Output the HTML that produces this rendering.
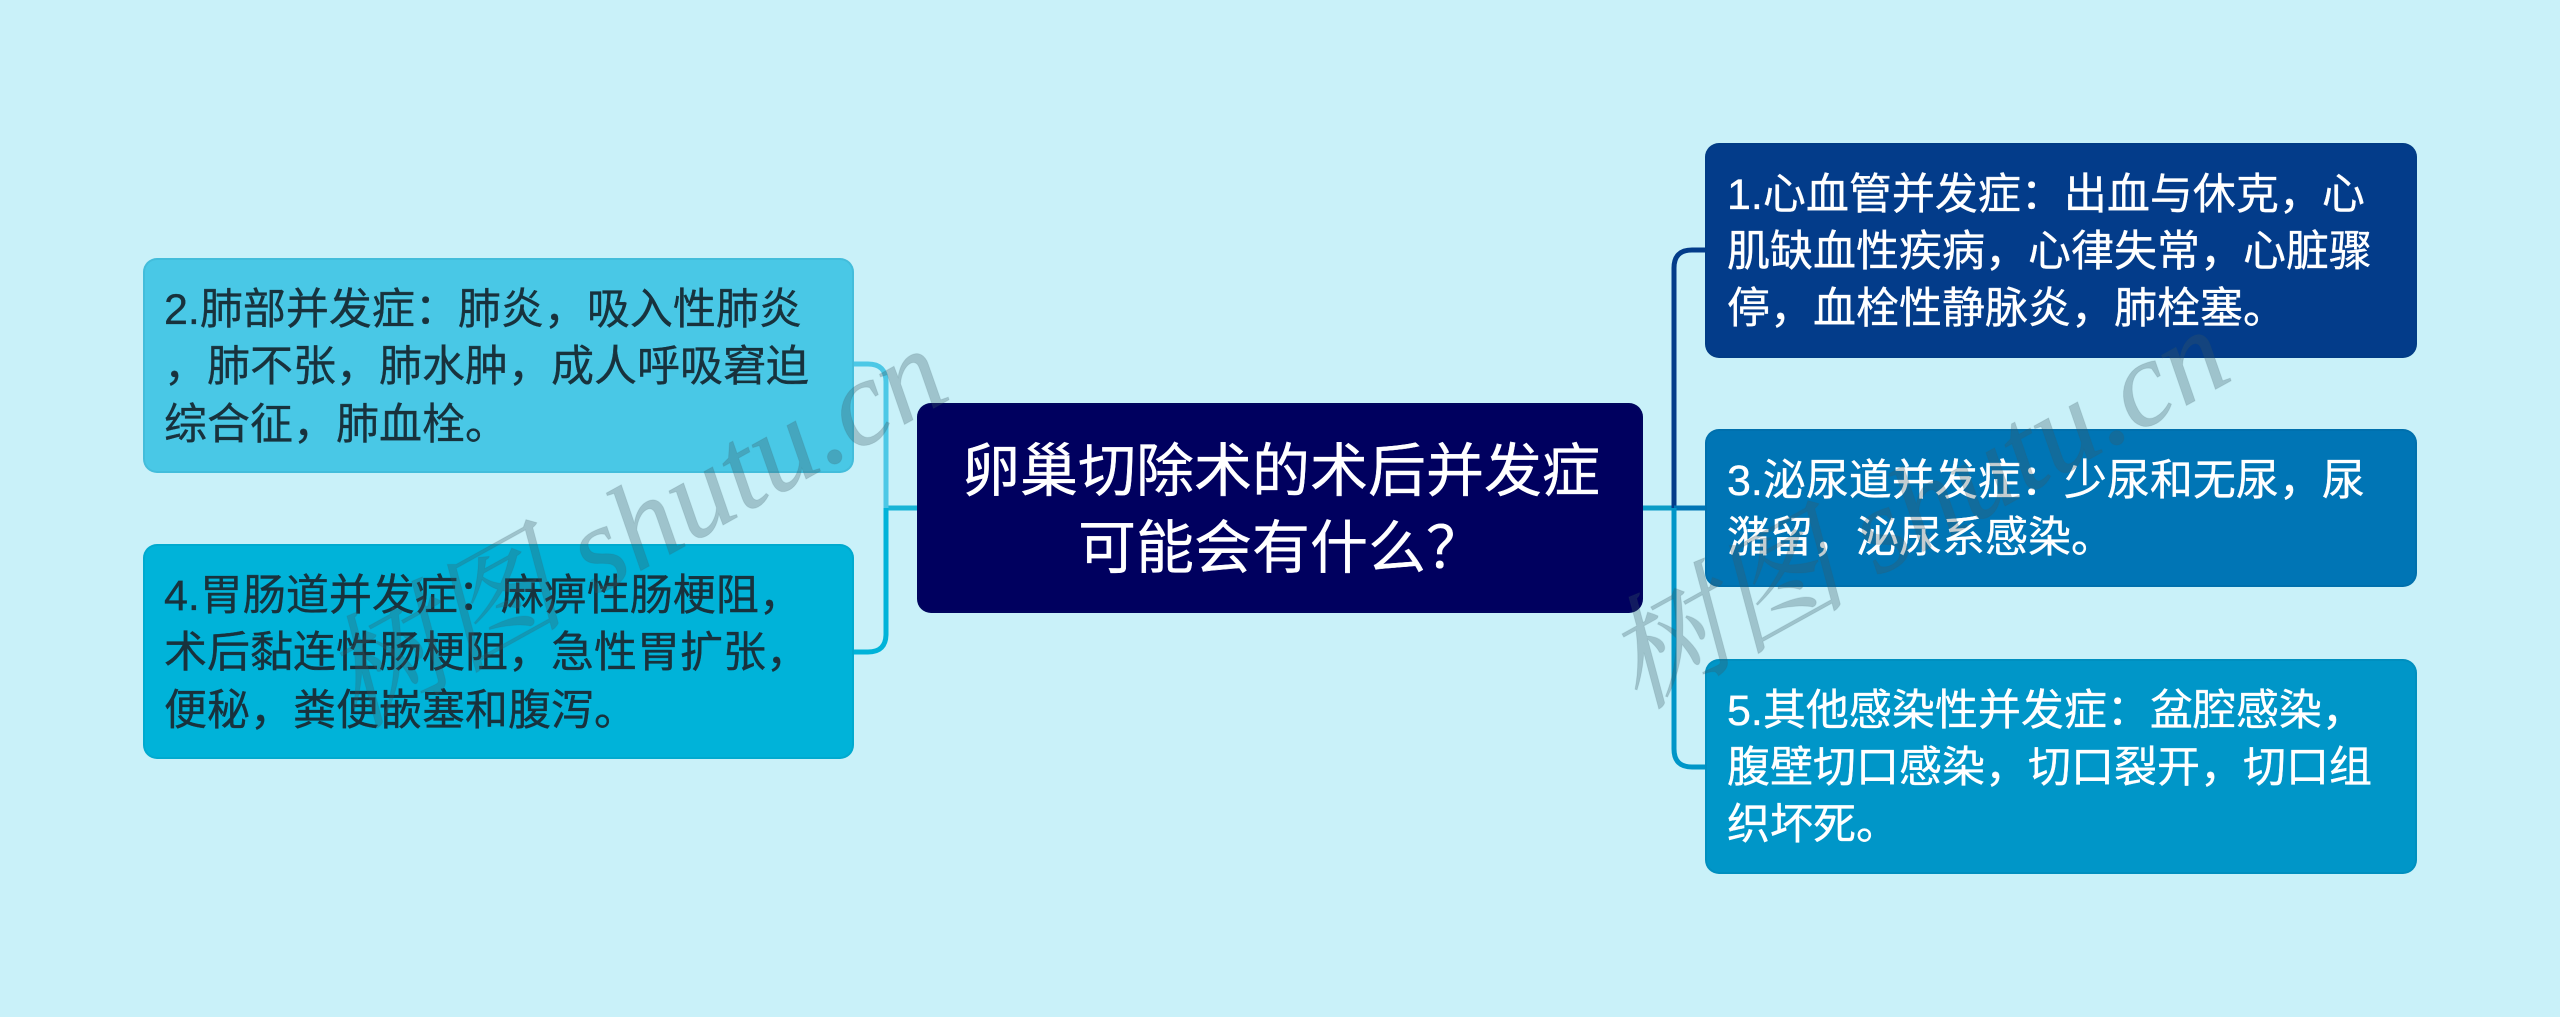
<!DOCTYPE html>
<html lang="zh">
<head>
<meta charset="utf-8">
<style>
html,body{margin:0;padding:0;background:#c9f1f9;}
#c{position:relative;width:2560px;height:1017px;overflow:hidden;background:#c9f1f9;font-family:"Liberation Sans","Noto Sans CJK SC",sans-serif;}
.b{position:absolute;border-radius:14px;box-sizing:border-box;border:2px solid rgba(0,60,90,.08);background-clip:border-box;}
.l{position:absolute;white-space:nowrap;font-size:43px;line-height:58px;height:58px;-webkit-text-stroke:.35px currentColor;}
.w{color:#fff}.d{color:#18323d}
.t{font-size:58px;line-height:76px;height:76px;color:#fff}
.wm{position:absolute;white-space:nowrap;font-family:"Liberation Serif","Noto Serif CJK SC",serif;font-style:italic;font-size:122px;line-height:130px;color:rgba(60,90,100,.3);-webkit-text-stroke:1px rgba(60,90,100,.12);transform:rotate(-29deg);transform-origin:center;}
svg{position:absolute;left:0;top:0}
</style>
</head>
<body>
<div id="c">
<svg width="2560" height="1017" fill="none" stroke-width="5">
<path d="M917 508H886" stroke="#18b4d6"/>
<path d="M854 364H868Q886 364 886 382V508" stroke="#4cc8e6"/>
<path d="M854 652H868Q886 652 886 634V508" stroke="#00b3d9"/>
<path d="M1643 508H1705" stroke="#0b9cc6"/>
<path d="M1705 250H1692Q1674 250 1674 268V508" stroke="#033c8a"/>
<path d="M1674 508H1705" stroke="#0075b5"/>
<path d="M1705 767H1692Q1674 767 1674 749V508" stroke="#0096c8"/>
</svg>

<div class="b" style="left:143px;top:258px;width:711px;height:215px;background:#49c8e6"></div>
<div class="b" style="left:143px;top:544px;width:711px;height:215px;background:#00b3d9"></div>
<div class="b" style="left:917px;top:403px;width:726px;height:210px;background:#00005f"></div>
<div class="b" style="left:1705px;top:143px;width:712px;height:215px;background:#033c8a"></div>
<div class="b" style="left:1705px;top:429px;width:712px;height:158px;background:#0075b5"></div>
<div class="b" style="left:1705px;top:659px;width:712px;height:215px;background:#0096c8"></div>

<div class="l d" style="left:164px;top:281px">2.肺部并发症：肺炎，吸入性肺炎</div>
<div class="l d" style="left:164px;top:338px">，肺不张，肺水肿，成人呼吸窘迫</div>
<div class="l d" style="left:164px;top:396px">综合征，肺血栓。</div>

<div class="l d" style="left:164px;top:567px">4.胃肠道并发症：麻痹性肠梗阻，</div>
<div class="l d" style="left:164px;top:624px">术后黏连性肠梗阻，急性胃扩张，</div>
<div class="l d" style="left:164px;top:682px">便秘，粪便嵌塞和腹泻。</div>

<div class="l t" style="left:962px;top:434px">卵巢切除术的术后并发症</div>
<div class="l t" style="left:1078px;top:511px">可能会有什么？</div>

<div class="l w" style="left:1727px;top:166px">1.心血管并发症：出血与休克，心</div>
<div class="l w" style="left:1727px;top:223px">肌缺血性疾病，心律失常，心脏骤</div>
<div class="l w" style="left:1727px;top:280px">停，血栓性静脉炎，肺栓塞。</div>

<div class="l w" style="left:1727px;top:452px">3.泌尿道并发症：少尿和无尿，尿</div>
<div class="l w" style="left:1727px;top:509px">潴留，泌尿系感染。</div>

<div class="l w" style="left:1727px;top:682px">5.其他感染性并发症：盆腔感染，</div>
<div class="l w" style="left:1727px;top:739px">腹壁切口感染，切口裂开，切口组</div>
<div class="l w" style="left:1727px;top:796px">织坏死。</div>

<div class="wm" style="left:293px;top:463px">树图 shutu.cn</div>
<div class="wm" style="left:1575px;top:444px">树图 shutu.cn</div>
</div>
</body>
</html>
